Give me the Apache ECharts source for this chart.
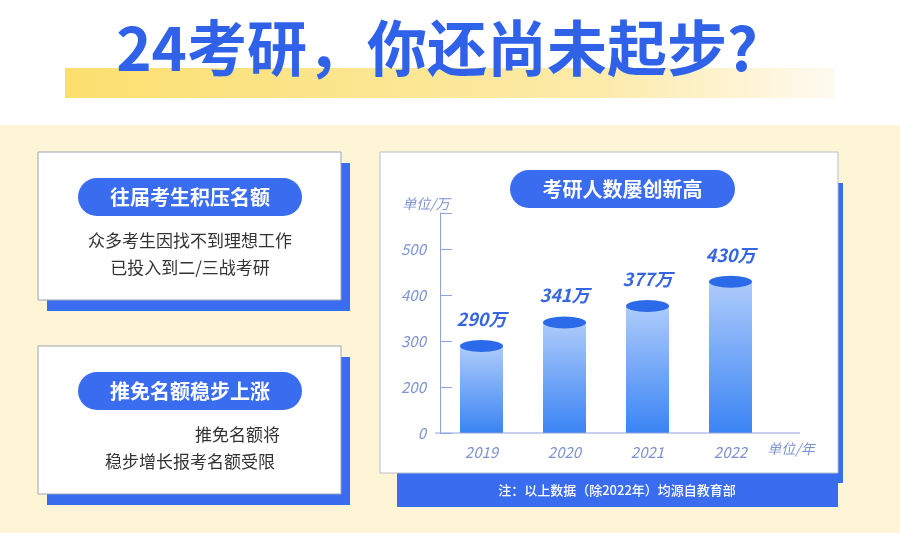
<!DOCTYPE html>
<html><head><meta charset="utf-8">
<script src="https://cdn.jsdelivr.net/npm/echarts@6/dist/echarts.min.js"></script>
<style>html,body{margin:0;padding:0;background:#fff}#c{width:900px;height:533px}</style>
</head><body><div id="c"></div>
<script>
var years = ['2019', '2020', '2021', '2022'];
var counts = [290, 341, 377, 430];
var yTicks = [100, 200, 300, 400, 500];
var yTickText = ['0', '200', '300', '400', '500'];

var FONT = '"Noto Sans CJK SC", sans-serif';
var BLUE = '#3a6cf0';

function panel(x, y, w, h) {
  return [
    { type: 'rect', shape: { x: x + 9, y: y + 11, width: w, height: h }, style: { fill: BLUE } },
    { type: 'rect', shape: { x: x, y: y, width: w, height: h }, style: { fill: '#fff', stroke: '#9aa3b8', lineWidth: 1 } }
  ];
}
function pill(x, y, w, h, text) {
  return [
    { type: 'rect', shape: { x: x, y: y, width: w, height: h, r: h / 2 }, style: { fill: BLUE } },
    { type: 'text', x: x + w / 2, y: y + h / 2, style: { text: text, fill: '#fff', font: 'bold 20px ' + FONT, align: 'center', verticalAlign: 'middle' } }
  ];
}
function txt(x, y, s, opt) {
  return { type: 'text', x: x, y: y, style: Object.assign({ text: s, fill: '#333', font: '17px ' + FONT, align: 'center', verticalAlign: 'middle' }, opt || {}) };
}

var g = [];
g.push({ type: 'rect', shape: { x: 0, y: 125, width: 900, height: 408 }, style: { fill: '#fdf5d6' } });
g.push({ type: 'rect', shape: { x: 65, y: 68, width: 770, height: 30 }, style: { fill: new echarts.graphic.LinearGradient(0, 0, 1, 0, [{ offset: 0, color: '#fbdf6e' }, { offset: 0.7, color: '#fcebaa' }, { offset: 1, color: '#fffaf0' }]) } });
g.push({ type: 'text', x: 437, y: 48, style: { text: '24考研，你还尚未起步?', fill: '#2f62e8', font: 'bold 60px ' + FONT, align: 'center', verticalAlign: 'middle' } });

g = g.concat(panel(38, 152, 303, 148), pill(78, 178, 224, 38, '往届考生积压名额'));
g.push(txt(190, 241, '众多考生因找不到理想工作'), txt(190, 268, '已投入到二/三战考研'));
g = g.concat(panel(38, 346, 303, 148), pill(78, 372, 224, 38, '推免名额稳步上涨'));
g.push(txt(280, 435, '推免名额将', { align: 'right' }), txt(190, 462, '稳步增长报考名额受限'));

g.push({ type: 'rect', shape: { x: 397, y: 473, width: 441, height: 34 }, style: { fill: BLUE } });
g.push({ type: 'rect', shape: { x: 836, y: 183, width: 7, height: 300 }, style: { fill: BLUE } });
g.push({ type: 'rect', shape: { x: 380, y: 152, width: 458, height: 321 }, style: { fill: '#fff', stroke: '#b8bfcc', lineWidth: 1 } });
g.push(txt(617, 490, '注：以上数据（除2022年）均源自教育部', { fill: '#fff', font: '500 13px ' + FONT }));
g = g.concat(pill(510, 170, 225, 38, '考研人数屡创新高'));
g.push(txt(426, 204, '单位/万', { fill: '#7d92d4', font: 'italic 14px ' + FONT }));
g.push(txt(791, 449, '单位/年', { fill: '#7d92d4', font: 'italic 14px ' + FONT }));
g.push({ type: 'line', shape: { x1: 435, y1: 433, x2: 800, y2: 433 }, style: { stroke: '#8ea3dc', lineWidth: 1 }, z: 5 });

var chart = echarts.init(document.getElementById('c'));
chart.setOption({
  animation: false,
  graphic: { elements: g },
  grid: { left: 440, right: 128, top: 213, bottom: 100 },
  xAxis: {
    type: 'category', data: years,
    axisLine: { show: false }, axisTick: { show: false },
    axisLabel: { color: '#7d92d4', fontStyle: 'italic', fontSize: 15, margin: 12, fontFamily: FONT }
  },
  yAxis: {
    type: 'value', min: 100, max: 580, interval: 100,
    axisLine: { show: true, lineStyle: { color: '#8ea3dc' } },
    axisTick: { show: true, inside: true, length: 12, lineStyle: { color: '#8ea3dc' } },
    splitLine: { show: false },
    axisLabel: {
      color: '#7d92d4', fontStyle: 'italic', fontSize: 15, fontFamily: FONT, margin: 14,
      formatter: function (v) { var i = yTicks.indexOf(v); return i < 0 ? '' : yTickText[i]; }
    }
  },
  series: [{
    type: 'bar', data: counts, barWidth: 43, z: 2,
    itemStyle: {
      color: new echarts.graphic.LinearGradient(0, 0, 0, 1, [{ offset: 0, color: '#aecbfb' }, { offset: 1, color: '#3a84f4' }])
    },
    label: {
      show: true, position: 'top', distance: 18, formatter: '{c}万',
      color: '#3566e0', fontWeight: 'bold', fontStyle: 'italic', fontSize: 18, fontFamily: FONT
    }
  }, {
    type: 'pictorialBar', data: counts, symbol: 'circle', symbolSize: [43, 12],
    symbolPosition: 'end', symbolOffset: [0, -6], z: 3,
    itemStyle: { color: '#2b6be9' }
  }]
});
</script></body></html>
